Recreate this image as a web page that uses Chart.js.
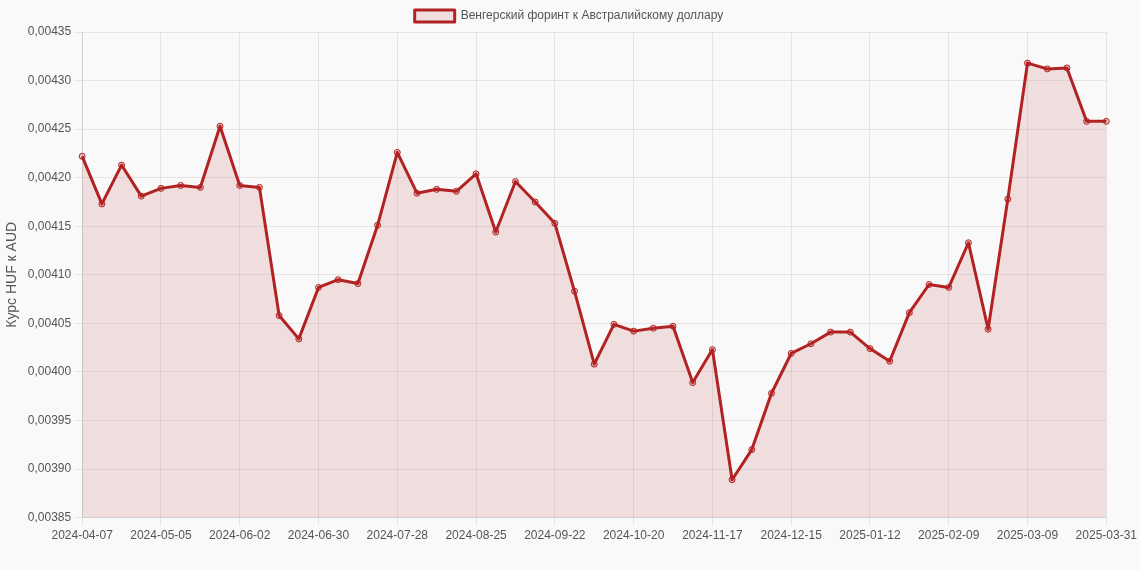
<!DOCTYPE html>
<html><head><meta charset="utf-8">
<script src="https://cdn.jsdelivr.net/npm/chart.js@4"></script>
<style>html,body{margin:0;background:#f9f9f9}#w{width:1140px;height:570px}</style>
</head><body><div id="w"><canvas id="c"></canvas></div>
<script>
const categories = ["2024-04-07","2024-04-14","2024-04-21","2024-04-28","2024-05-05","2024-05-12","2024-05-19","2024-05-26","2024-06-02","2024-06-09","2024-06-16","2024-06-23","2024-06-30","2024-07-07","2024-07-14","2024-07-21","2024-07-28","2024-08-04","2024-08-11","2024-08-18","2024-08-25","2024-09-01","2024-09-08","2024-09-15","2024-09-22","2024-09-29","2024-10-06","2024-10-13","2024-10-20","2024-10-27","2024-11-03","2024-11-10","2024-11-17","2024-11-24","2024-12-01","2024-12-08","2024-12-15","2024-12-22","2024-12-29","2025-01-05","2025-01-12","2025-01-19","2025-01-26","2025-02-02","2025-02-09","2025-02-16","2025-02-23","2025-03-02","2025-03-09","2025-03-16","2025-03-23","2025-03-30","2025-03-31"];
const rates = [0.004222,0.004173,0.004213,0.004181,0.004189,0.004192,0.00419,0.004253,0.004192,0.00419,0.004058,0.004034,0.004087,0.004095,0.004091,0.004151,0.004226,0.004184,0.004188,0.004186,0.004204,0.004144,0.004196,0.004175,0.004153,0.004083,0.004008,0.004049,0.004042,0.004045,0.004047,0.003989,0.004023,0.003889,0.00392,0.003978,0.004019,0.004029,0.004041,0.004041,0.004024,0.004011,0.004061,0.00409,0.004087,0.004133,0.004044,0.004178,0.004318,0.004312,0.004313,0.004258,0.004258];
const seriesName = "Венгерский форинт к Австралийскому доллару";
const yTitle = "Курс HUF к AUD";
Chart.defaults.font.family = "'Liberation Sans', Arial, sans-serif";
Chart.defaults.color = "#555";
new Chart(document.getElementById('c'), {
  type: 'line',
  data: { labels: categories, datasets: [{
    label: seriesName, data: rates,
    borderColor: '#b22222', borderWidth: 3, borderJoinStyle: 'round',
    backgroundColor: 'rgba(178,34,34,0.12)', fill: true, tension: 0,
    pointRadius: 3, pointBackgroundColor: 'rgba(178,34,34,0.25)', pointBorderColor: '#b22222', pointBorderWidth: 1
  }]},
  options: {
    responsive: true, maintainAspectRatio: false, animation: false,
    layout: { padding: { right: 2, bottom: 24 } },
    plugins: { legend: { labels: { font: { size: 12 }, boxWidth: 40 } } },
    scales: {
      x: { grid: { color: 'rgba(0,0,0,0.08)' },
        ticks: { autoSkip: false, maxRotation: 0, font: { size: 12 },
          callback: function(v, i) { return (i % 4 === 0 || i === categories.length - 1) ? categories[i] : null; } } },
      y: { min: 0.00385, max: 0.00435, grid: { color: 'rgba(0,0,0,0.08)' },
        title: { display: true, text: yTitle, font: { size: 14 } },
        ticks: { stepSize: 0.00005, font: { size: 12 },
          callback: v => v.toFixed(5).replace('.', ',') } }
    }
  }
});
</script></body></html>
